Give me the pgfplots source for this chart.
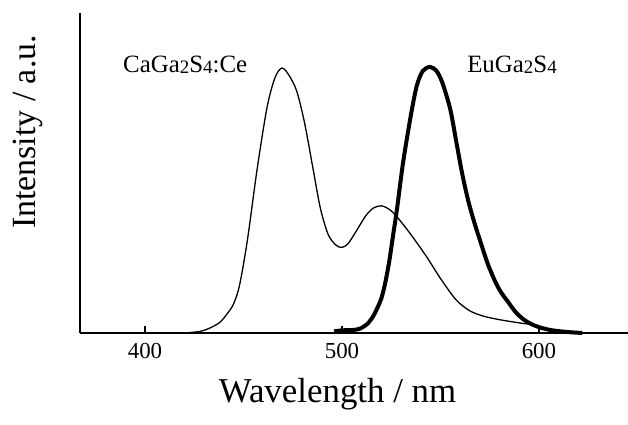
\documentclass[border=0pt]{standalone}
\usepackage{fontspec}
\setmainfont{Liberation Serif}
\usepackage{pgfplots}
\pgfplotsset{compat=1.18}
\newcommand{\sub}[1]{\raisebox{-0.12ex}{\fontsize{19}{19}\selectfont #1}}
\begin{document}
\begin{tikzpicture}
\begin{axis}[
  at={(80bp,92bp)}, anchor=south west,
  scale only axis, width=548bp, height=320bp,
  xmin=367, xmax=645.2, ymin=0, ymax=1.203,
  axis x line*=bottom, axis y line*=left,
  axis line style={line width=1.3bp, black, -},
  xtick={400,500,600}, ytick=\empty,
  tick align=inside, major tick length=7bp,
  tick style={line width=1.1bp, black},
  /pgf/number format/assume math mode=true,
  xticklabel style={font=\fontsize{23}{23}\selectfont, anchor=north, yshift=-7bp},
  xlabel={Wavelength / nm},
  xlabel style={font=\fontsize{35}{35}\selectfont, at={(axis description cs:0.47,-0.19)}, anchor=center},
  ylabel={Intensity / a.u.},
  ylabel style={font=\fontsize{34}{34}\selectfont, at={(axis description cs:-0.095,0.628)}, anchor=center, rotate=0},
  clip=false,
]
\addplot[black, line width=1.3bp, smooth, tension=0.5] coordinates {
(420,0) (428,0.006) (433,0.019) (438,0.04) (442,0.075) (445,0.11) (448,0.18) (452,0.35) (457,0.62) (462,0.85) (466,0.96) (469.5,0.996)
(473,0.97) (477,0.91) (481,0.79) (485,0.63) (489,0.47) (493,0.37) (497,0.33) (500,0.322) (503,0.335) (507,0.38)
(512,0.44) (516,0.47) (520,0.478) (524,0.465) (528,0.436) (535,0.37) (543,0.286) (550,0.205) (558,0.124) (565,0.083)
(572,0.063) (580,0.05) (590,0.038) (599,0.028) (605,0.01) (610,0)
};
\addplot[black, line width=4bp, smooth, tension=0.5] coordinates {
(496,0.006) (500,0.01) (505,0.011) (509,0.016) (513,0.035) (516,0.065) (518,0.095) (520,0.13) (522,0.19) (524,0.27)
(526,0.37) (528,0.47) (531,0.64) (535,0.82) (538,0.93) (541,0.985) (544.7,1.0) (548,0.985) (551,0.94) (555,0.84)
(558,0.72) (561,0.6) (564,0.5) (567,0.42) (570,0.35) (574,0.26) (578,0.19) (581,0.15) (584,0.12) (588,0.08)
(592,0.052) (596,0.034) (600,0.022) (606,0.011) (614,0.004) (622,0)
};
\node[anchor=base west, font=\fontsize{25}{25}\selectfont, inner sep=0pt] at (axis cs:388.8,0.981) {CaGa\sub{2}S\sub{4}:Ce};
\node[anchor=base west, font=\fontsize{25}{25}\selectfont, inner sep=0pt] at (axis cs:563.5,0.981) {EuGa\sub{2}S\sub{4}};
\end{axis}
\pgfresetboundingbox
\useasboundingbox (0,0) rectangle (628bp,425bp);
\end{tikzpicture}
\end{document}
